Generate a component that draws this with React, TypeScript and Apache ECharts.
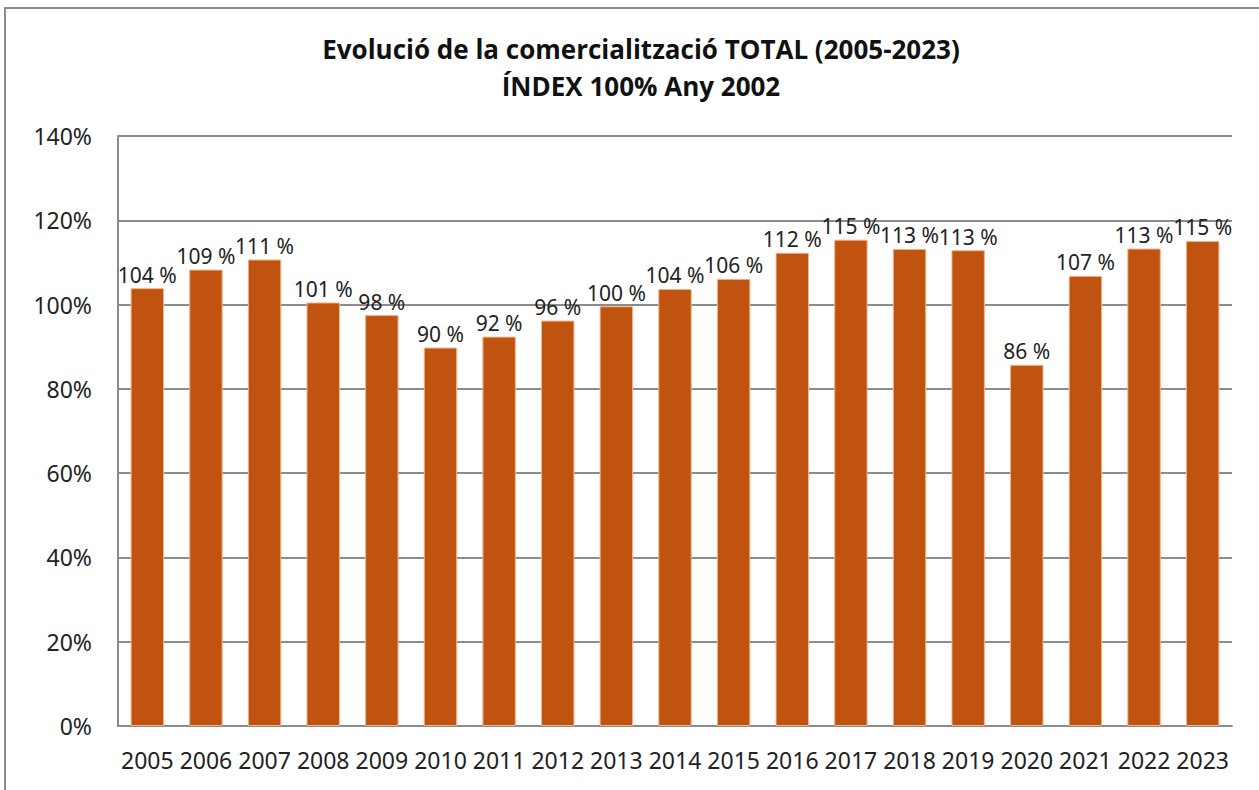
import React, { useEffect, useRef } from "react";
import * as echarts from "echarts";

const years = ["2005","2006","2007","2008","2009","2010","2011","2012","2013","2014","2015","2016","2017","2018","2019","2020","2021","2022","2023"];
const indexValues = [103.9,108.3,110.7,100.5,97.5,89.8,92.4,96.2,99.6,103.7,106.1,112.3,115.4,113.2,112.9,85.7,106.8,113.3,115.1];
const labelValues = [104,109,111,101,98,90,92,96,100,104,106,112,115,113,113,86,107,113,115];
const titleLines = ["Evolució de la comercialització TOTAL (2005-2023)", "ÍNDEX 100% Any 2002"];

export default function App() {
  const ref = useRef<HTMLDivElement>(null);
  useEffect(() => {
    document.body.style.margin = "0";
    const chart = echarts.init(ref.current!, null, { renderer: "svg" });
    const font = "'Noto Sans', 'Open Sans', sans-serif";
    chart.setOption({
      animation: false,
      backgroundColor: "#ffffff",
      graphic: [
        {
          type: "rect",
          shape: { x: 5, y: 8, width: 1400, height: 900 },
          style: { fill: "none", stroke: "#8c8c8c", lineWidth: 2 },
          silent: true,
          z: -10,
        },
      ],
      title: {
        text: titleLines.join("\n"),
        left: 636,
        textAlign: "center",
        top: 25,
        textStyle: {
          fontFamily: "'Open Sans', 'Noto Sans', sans-serif",
          fontWeight: "bold",
          fontSize: 26,
          lineHeight: 37,
          color: "#111",
        },
      },
      grid: { left: 118, right: 27, top: 136, bottom: 64 },
      xAxis: {
        type: "category",
        data: years,
        axisTick: { show: false },
        axisLine: { show: true, lineStyle: { color: "#8c8c8c", width: 2 } },
        axisLabel: { color: "#222", fontSize: 23, fontFamily: font, margin: 22, interval: 0 },
      },
      yAxis: {
        type: "value",
        min: 0,
        max: 140,
        interval: 20,
        axisLine: { show: true, lineStyle: { color: "#8c8c8c", width: 2 } },
        axisTick: { show: false },
        splitLine: { show: true, lineStyle: { color: "#8c8c8c", width: 2 } },
        axisLabel: { color: "#222", fontSize: 23, fontFamily: font, margin: 26, formatter: "{value}%" },
      },
      series: [
        {
          type: "bar",
          data: indexValues,
          barWidth: "57%",
          itemStyle: { color: "#C0530F", borderColor: "#F2B48A", borderWidth: 1 },
          label: {
            show: true,
            position: "top",
            distance: 3,
            color: "#222",
            fontSize: 21,
            fontFamily: font,
            formatter: (p: any) => labelValues[p.dataIndex] + " %",
          },
        },
      ],
    });
    return () => chart.dispose();
  }, []);
  return <div ref={ref} style={{ width: 1259, height: 790 }} />;
}
